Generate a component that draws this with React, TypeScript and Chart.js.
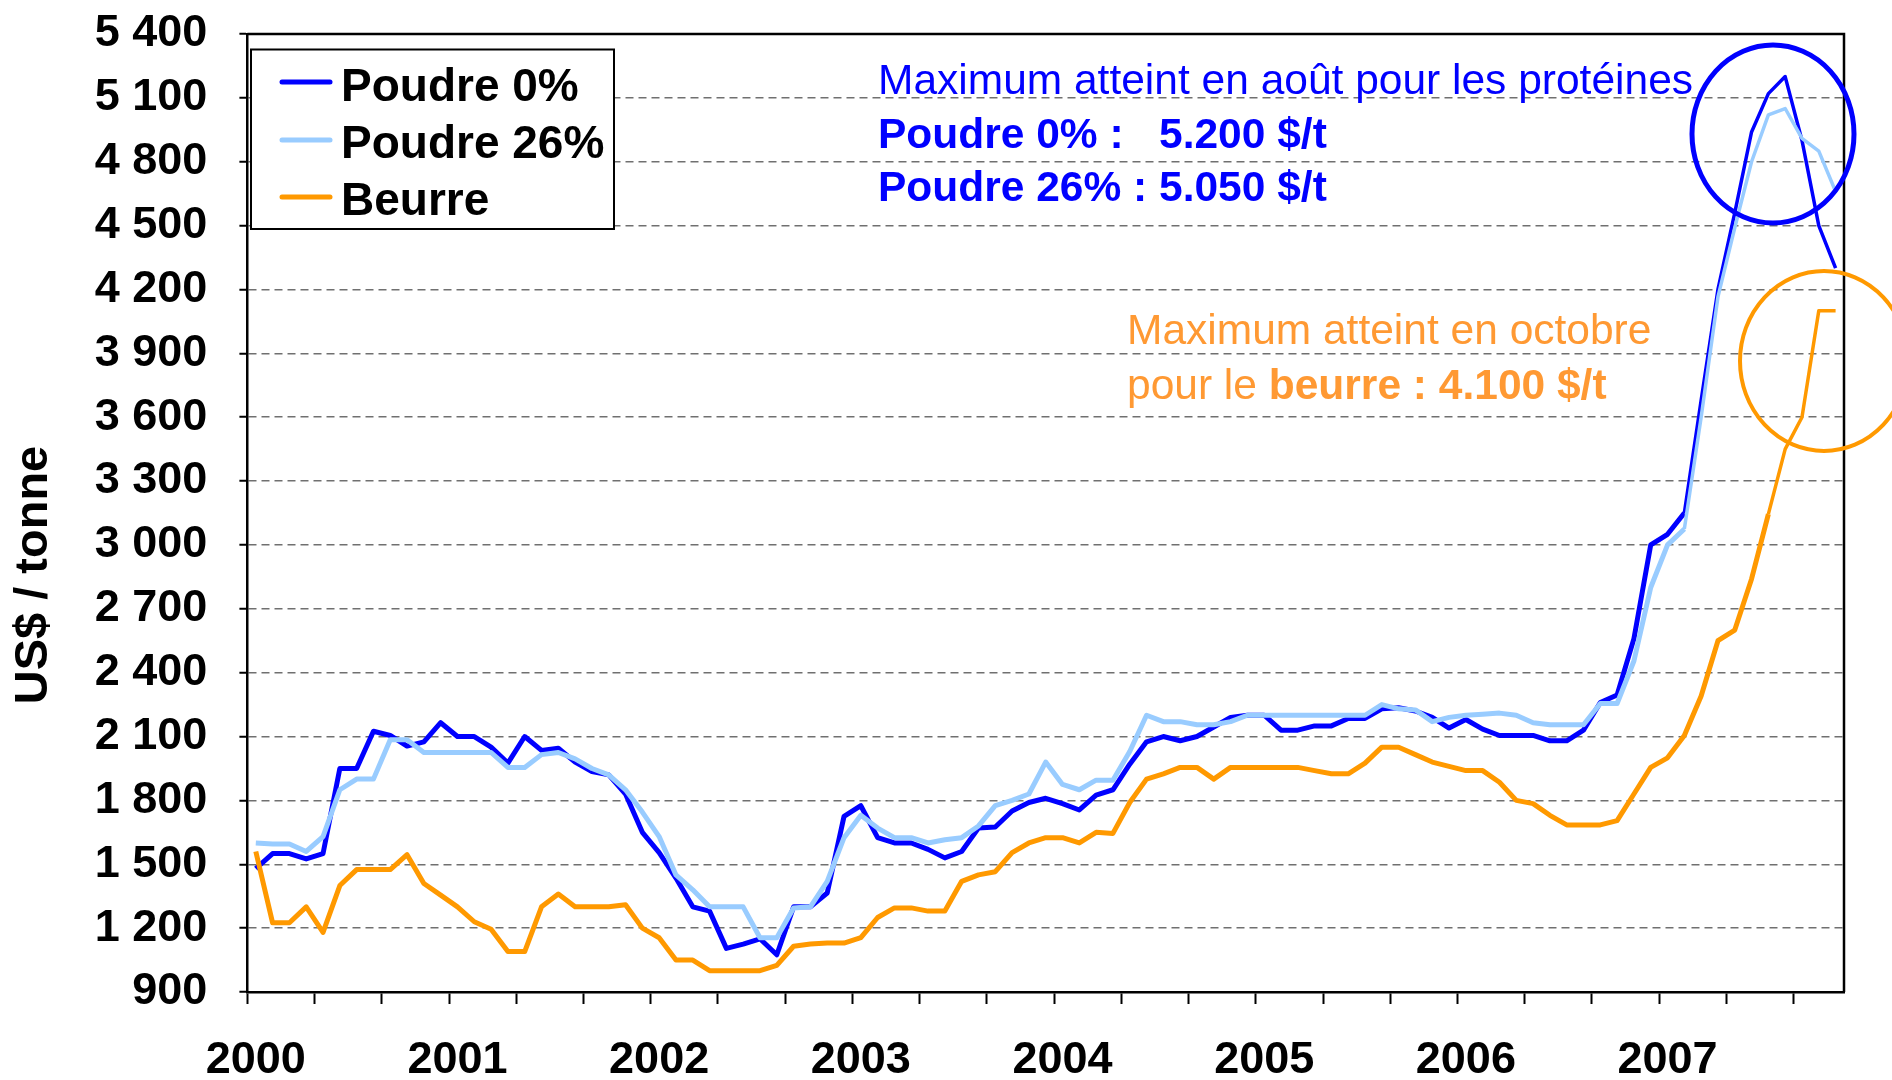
import { useEffect, useRef } from 'react';
import { Chart, registerables } from 'chart.js';

Chart.register(...registerables);

const FONT = "'Liberation Sans', Arial, Helvetica, sans-serif";

// Monthly prices, January 2000 to November 2007 (US$ / tonne)
const startYear = 2000;

const poudre0 = [
  1480, 1550, 1550, 1525, 1550, 1950, 1950, 2125, 2105, 2055,
  2075, 2165, 2100, 2100, 2050, 1975, 2100, 2035, 2045, 1980,
  1935, 1920, 1830, 1650, 1555, 1435, 1300, 1280, 1105, 1125,
  1150, 1075, 1300, 1300, 1365, 1725, 1775, 1625, 1600, 1600,
  1570, 1530, 1560, 1670, 1675, 1750, 1790, 1810, 1785, 1755,
  1825, 1850, 1970, 2075, 2100, 2080, 2100, 2145, 2190, 2200,
  2200, 2130, 2130, 2150, 2150, 2185, 2185, 2230, 2235, 2220,
  2190, 2140, 2180, 2135, 2105, 2105, 2105, 2080, 2080, 2130,
  2260, 2295, 2560, 3000, 3050, 3150, 3680, 4200, 4560, 4940,
  5120, 5200, 4900, 4500, 4300,
];

const poudre26 = [
  1600, 1595, 1595, 1560, 1630, 1850, 1900, 1900, 2085, 2085,
  2025, 2025, 2025, 2025, 2025, 1955, 1955, 2015, 2025, 1995,
  1950, 1920, 1850, 1745, 1630, 1450, 1380, 1300, 1300, 1300,
  1155, 1155, 1295, 1300, 1420, 1625, 1730, 1670, 1625, 1625,
  1600, 1615, 1625, 1680, 1775, 1800, 1830, 1980, 1875, 1850,
  1895, 1895, 2030, 2200, 2170, 2170, 2155, 2155, 2170, 2200,
  2200, 2200, 2200, 2200, 2200, 2200, 2200, 2250, 2230, 2225,
  2170, 2190, 2200, 2205, 2210, 2200, 2165, 2155, 2155, 2155,
  2255, 2255, 2455, 2800, 3000, 3075, 3600, 4165, 4490, 4800,
  5020, 5050, 4910, 4850, 4660,
];

const beurre = [
  1560, 1225, 1225, 1300, 1180, 1400, 1475, 1475, 1475, 1545,
  1410, 1355, 1300, 1230, 1195, 1090, 1090, 1300, 1360, 1300,
  1300, 1300, 1310, 1200, 1155, 1050, 1050, 1000, 1000, 1000,
  1000, 1025, 1115, 1125, 1130, 1130, 1155, 1250, 1295, 1295,
  1280, 1280, 1420, 1450, 1465, 1555, 1600, 1625, 1625, 1600,
  1650, 1645, 1790, 1900, 1925, 1955, 1955, 1900, 1955, 1955,
  1955, 1955, 1955, 1940, 1925, 1925, 1975, 2050, 2050, 2015,
  1980, 1960, 1940, 1940, 1885, 1800, 1785, 1730, 1685, 1685,
  1685, 1705, 1830, 1955, 2000, 2105, 2290, 2550, 2600, 2840,
  3145, 3450, 3600, 4100, 4100,
];

const seriesNames = ['Poudre 0%', 'Poudre 26%', 'Beurre'];
const seriesColors = ['#0000FF', '#99CCFF', '#FF9900'];

const yMin = 900;
const yMax = 5400;
const yStep = 300;
const monthsPerTick = 4;
const monthsPerYear = 12;
const monthCount = 95;

const yTitle = 'US$ / tonne';
const noteBlueTitle = 'Maximum atteint en août pour les protéines';
const noteBlue1 = 'Poudre 0% :   5.200 $/t';
const noteBlue2 = 'Poudre 26% : 5.050 $/t';
const noteOrange1 = 'Maximum atteint en octobre';
const noteOrange2a = 'pour le ';
const noteOrange2b = 'beurre : 4.100 $/t';

const fmtThousands = (v: number) =>
  v >= 1000 ? `${Math.floor(v / 1000)} ${String(v % 1000).padStart(3, '0')}` : String(v);

export default function App() {
  const ref = useRef<HTMLCanvasElement>(null);

  useEffect(() => {
    const canvas = ref.current;
    if (!canvas) return;
    const toPts = (arr: number[]) => arr.map((v, i) => ({ x: i + 0.5, y: v }));
    const segW = (c: any) => (c.p0.parsed.y > 3060 ? 3.5 : 5);

    const decor = {
      id: 'decor',
      afterDraw(chart: any) {
        const { ctx, chartArea: a } = chart;
        ctx.save();
        // top & right frame
        ctx.strokeStyle = '#000';
        ctx.lineWidth = 2.5;
        ctx.beginPath();
        ctx.moveTo(a.left, a.top);
        ctx.lineTo(a.right, a.top);
        ctx.lineTo(a.right, a.bottom);
        ctx.stroke();

        // y title
        ctx.save();
        ctx.translate(34, 575);
        ctx.rotate(-Math.PI / 2);
        ctx.font = `bold 47px ${FONT}`;
        ctx.fillStyle = '#000';
        ctx.textAlign = 'center';
        ctx.textBaseline = 'middle';
        ctx.fillText(yTitle, 0, 0);
        ctx.restore();

        // legend
        ctx.fillStyle = '#fff';
        ctx.fillRect(251, 49.5, 363, 179.5);
        ctx.strokeStyle = '#000';
        ctx.lineWidth = 2;
        ctx.strokeRect(251, 49.5, 363, 179.5);
        const rowsY = [82, 140, 197];
        const baseY = [101, 158, 215];
        ctx.font = `bold 46px ${FONT}`;
        ctx.textAlign = 'left';
        ctx.textBaseline = 'alphabetic';
        seriesNames.forEach((name, k) => {
          ctx.strokeStyle = seriesColors[k];
          ctx.lineWidth = 5;
          ctx.lineCap = 'round';
          ctx.beginPath();
          ctx.moveTo(282, rowsY[k]);
          ctx.lineTo(330, rowsY[k]);
          ctx.stroke();
          ctx.fillStyle = '#000';
          ctx.fillText(name, 341, baseY[k]);
        });

        // blue note
        ctx.fillStyle = '#0000FF';
        ctx.font = `42.5px ${FONT}`;
        ctx.fillText(noteBlueTitle, 878, 94);
        ctx.font = `bold 42.5px ${FONT}`;
        ctx.fillText(noteBlue1, 878, 148);
        ctx.fillText(noteBlue2, 878, 201);

        // orange note
        ctx.fillStyle = '#FF9933';
        ctx.font = `42.5px ${FONT}`;
        ctx.fillText(noteOrange1, 1127, 344);
        ctx.fillText(noteOrange2a, 1127, 399);
        const w = ctx.measureText(noteOrange2a).width;
        ctx.font = `bold 42.5px ${FONT}`;
        ctx.fillText(noteOrange2b, 1127 + w, 399);

        // circles
        ctx.lineCap = 'butt';
        ctx.strokeStyle = '#0000FF';
        ctx.lineWidth = 5;
        ctx.beginPath();
        ctx.ellipse(1773, 134, 81, 89, 0, 0, Math.PI * 2);
        ctx.stroke();
        ctx.strokeStyle = '#FF9900';
        ctx.lineWidth = 4;
        ctx.beginPath();
        ctx.ellipse(1824, 361, 84, 90, 0, 0, Math.PI * 2);
        ctx.stroke();
        ctx.restore();
      },
    };

    const chart = new Chart(canvas, {
      type: 'line',
      data: {
        datasets: [
          { label: seriesNames[0], data: toPts(poudre0), borderColor: seriesColors[0], borderWidth: 5, order: 2, segment: { borderWidth: segW } },
          { label: seriesNames[1], data: toPts(poudre26), borderColor: seriesColors[1], borderWidth: 5, order: 1, segment: { borderWidth: segW } },
          { label: seriesNames[2], data: toPts(beurre), borderColor: seriesColors[2], borderWidth: 5, order: 0, segment: { borderWidth: segW } },
        ] as any,
      },
      options: {
        animation: false,
        responsive: false,
        devicePixelRatio: 1,
        parsing: false as any,
        normalized: true,
        elements: { point: { radius: 0 }, line: { tension: 0, borderJoinStyle: 'round' } },
        layout: { padding: { left: 0, top: 34, right: 48, bottom: 0 } },
        plugins: { legend: { display: false }, tooltip: { enabled: false } },
        scales: {
          x: {
            type: 'linear',
            min: 0,
            max: monthCount,
            afterFit: (s: any) => { s.height = 88; s.paddingLeft = 0; s.paddingRight = 0; },
            border: { display: true, color: '#000', width: 2.5 },
            grid: { display: true, drawOnChartArea: false, drawTicks: true, tickLength: 12, tickColor: '#000', tickWidth: 2 },
            ticks: {
              stepSize: monthsPerTick,
              includeBounds: false,
              autoSkip: false,
              maxRotation: 0,
              minRotation: 0,
              labelOffset: 8.4,
              padding: 30,
              color: '#000',
              font: { family: FONT, size: 45, weight: 'bold' },
              callback: (v: any) => (Number(v) % monthsPerYear === 0 ? String(startYear + Number(v) / monthsPerYear) : ''),
            },
          },
          y: {
            type: 'linear',
            min: yMin,
            max: yMax,
            afterFit: (s: any) => { s.width = 247.4; s.paddingTop = 0; s.paddingBottom = 0; },
            border: { display: true, color: '#000', width: 2.5, dash: [8, 5] },
            grid: {
              display: true,
              drawOnChartArea: true,
              drawTicks: true,
              tickLength: 8,
              tickColor: '#000',
              tickWidth: 2,
              lineWidth: 1.5,
              color: (c: any) => (c.tick && (c.tick.value === yMin || c.tick.value === yMax) ? 'rgba(0,0,0,0)' : '#707070'),
            },
            ticks: {
              stepSize: yStep,
              padding: 32,
              color: '#000',
              font: { family: FONT, size: 45, weight: 'bold' },
              callback: (v: any) => fmtThousands(Number(v)),
            },
          },
        },
      } as any,
      plugins: [decor],
    });
    return () => chart.destroy();
  }, []);

  return (
    <div style={{ position: 'absolute', left: 0, top: 0, width: 1892, height: 1080, background: '#fff' }}>
      <canvas ref={ref} width={1892} height={1080} style={{ display: 'block' }} />
    </div>
  );
}
